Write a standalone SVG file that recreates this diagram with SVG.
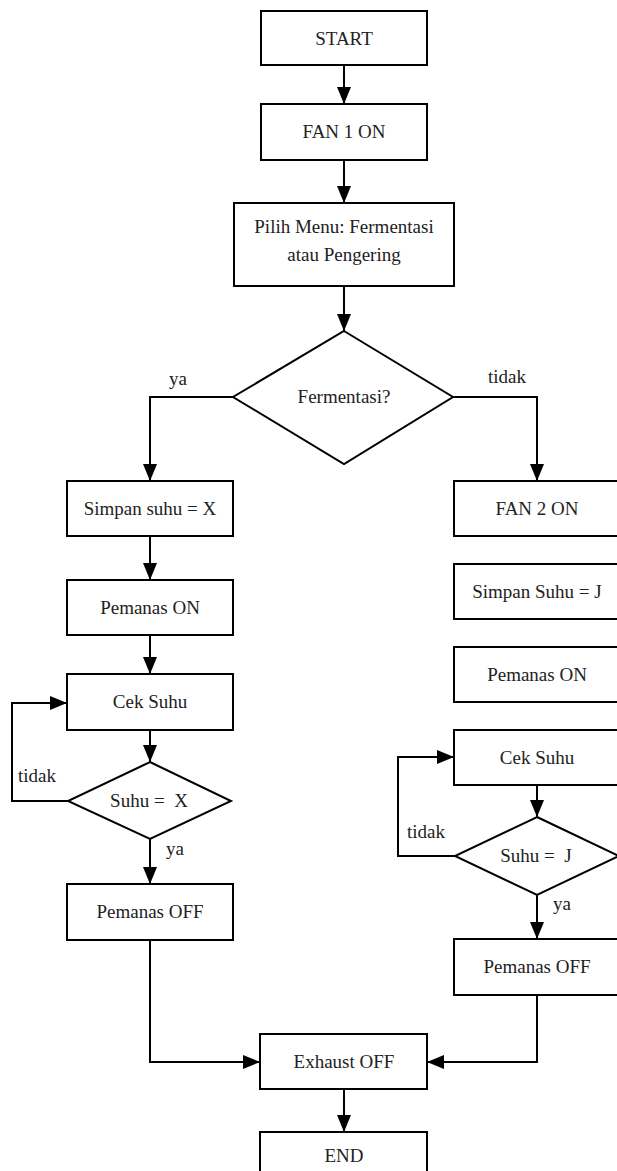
<svg xmlns="http://www.w3.org/2000/svg" width="617" height="1171" viewBox="0 0 617 1171">
<style>
.b{fill:#fff;stroke:#000;stroke-width:2}
.t{font-family:"Liberation Serif","Times New Roman",serif;font-size:19px;fill:#222;text-anchor:middle}
.l{font-family:"Liberation Serif","Times New Roman",serif;font-size:19px;fill:#222}
.c{fill:none;stroke:#000;stroke-width:2;marker-end:url(#ah)}
</style>
<defs>
<marker id="ah" markerUnits="userSpaceOnUse" markerWidth="18" markerHeight="16" refX="17" refY="7" orient="auto">
<path d="M0,0 L17,7 L0,14 Z" fill="#000"/>
</marker>
</defs>
<rect width="617" height="1171" fill="#fff"/>
<g id="connectors">
<path class="c" d="M344,65 V104"/>
<path class="c" d="M344,160 V203"/>
<path class="c" d="M344,286 V331"/>
<path class="c" d="M233,397 H150 V481"/>
<path class="c" d="M453,397 H537 V481"/>
<path class="c" d="M150,536 V580"/>
<path class="c" d="M150,635 V674"/>
<path class="c" d="M150,730 V762"/>
<path class="c" d="M68,801 H12 V703 H67"/>
<path class="c" d="M150,839 V884"/>
<path class="c" d="M150,940 V1062 H260"/>
<path class="c" d="M537,785 V817"/>
<path class="c" d="M455,856 H398 V757 H454"/>
<path class="c" d="M537,895 V939"/>
<path class="c" d="M537,995 V1062 H427"/>
<path class="c" d="M344,1089 V1132"/>
<text class="t" x="178" y="385">ya</text>
<text class="t" x="507" y="383">tidak</text>
<text class="l" x="18" y="782">tidak</text>
<text class="l" x="166" y="855">ya</text>
<text class="l" x="407" y="838">tidak</text>
<text class="l" x="553" y="910">ya</text>
</g>
<g id="start"><rect class="b" x="261" y="11" width="166" height="54"/><text class="t" x="344" y="45">START</text></g>
<g id="fan1"><rect class="b" x="261" y="104" width="166" height="56"/><text class="t" x="344" y="138">FAN 1 ON</text></g>
<g id="menu"><rect class="b" x="234" y="203" width="220" height="83"/><text class="t" x="344" y="233">Pilih Menu: Fermentasi</text><text class="t" x="344" y="261">atau Pengering</text></g>
<g id="fermentasi"><path class="b" d="M344,331 L453,397 L344,464 L233,397 Z"/><text class="t" x="344" y="403">Fermentasi?</text></g>
<g id="simpanX"><rect class="b" x="67" y="481" width="166" height="55"/><text class="t" x="150" y="515">Simpan suhu = X</text></g>
<g id="pemanasOnL"><rect class="b" x="67" y="580" width="166" height="55"/><text class="t" x="150" y="614">Pemanas ON</text></g>
<g id="cekSuhuL"><rect class="b" x="67" y="674" width="166" height="56"/><text class="t" x="150" y="708">Cek Suhu</text></g>
<g id="suhuX"><path class="b" d="M150,762 L231,801 L150,839 L68,801 Z"/><text class="t" x="149" y="807" xml:space="preserve">Suhu =  X</text></g>
<g id="pemanasOffL"><rect class="b" x="67" y="884" width="166" height="56"/><text class="t" x="150" y="918">Pemanas OFF</text></g>
<g id="fan2"><rect class="b" x="454" y="481" width="166" height="55"/><text class="t" x="537" y="515">FAN 2 ON</text></g>
<g id="simpanJ"><rect class="b" x="454" y="564" width="166" height="55"/><text class="t" x="537" y="598">Simpan Suhu = J</text></g>
<g id="pemanasOnR"><rect class="b" x="454" y="647" width="166" height="55"/><text class="t" x="537" y="681">Pemanas ON</text></g>
<g id="cekSuhuR"><rect class="b" x="454" y="730" width="166" height="55"/><text class="t" x="537" y="764">Cek Suhu</text></g>
<g id="suhuJ"><path class="b" d="M537,817 L619,856 L537,895 L455,856 Z"/><text class="t" x="536" y="862" xml:space="preserve">Suhu =  J</text></g>
<g id="pemanasOffR"><rect class="b" x="454" y="939" width="166" height="56"/><text class="t" x="537" y="973">Pemanas OFF</text></g>
<g id="exhaust"><rect class="b" x="260" y="1034" width="167" height="55"/><text class="t" x="344" y="1068">Exhaust OFF</text></g>
<g id="end"><rect class="b" x="260" y="1132" width="167" height="44"/><text class="t" x="344" y="1162">END</text></g>
</svg>
